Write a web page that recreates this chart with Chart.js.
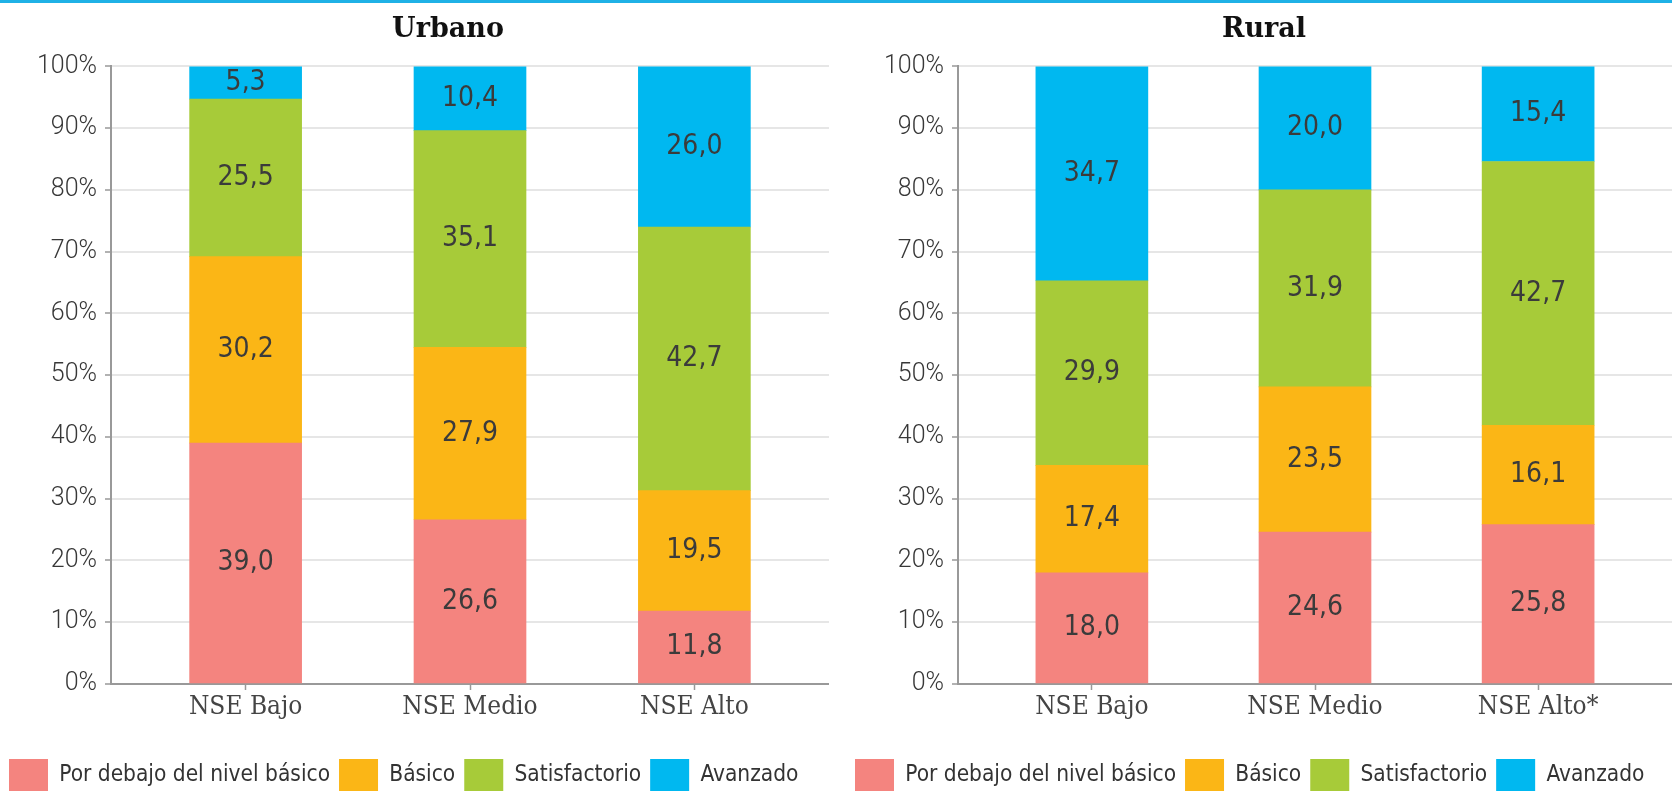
<!DOCTYPE html>
<html>
<head>
<meta charset="utf-8">
<script src="https://cdn.jsdelivr.net/npm/chart.js@4.4.1/dist/chart.umd.min.js"></script>
<style>
  html, body { margin: 0; padding: 0; background: #fff; overflow: hidden; }
  #linea { position: absolute; left: 0; top: 0; width: 1672px; height: 3px; background: #1fb1e6; z-index: 2; }
  #urbano { position: absolute; left: 0; top: 0; }
  #rural { position: absolute; left: 840px; top: 0; }
</style>
</head>
<body>
<div id="linea"></div>
<canvas id="urbano" width="829" height="801"></canvas>
<canvas id="rural" width="832" height="801"></canvas>
<script>
const niveles = ['Por debajo del nivel básico', 'Básico', 'Satisfactorio', 'Avanzado'];
const colores = ['#f4847f', '#fbb616', '#a7cb39', '#00b8f0'];

const catUrbano = ['NSE Bajo', 'NSE Medio', 'NSE Alto'];
const urbanoDebajo = [39.0, 26.6, 11.8];
const urbanoBasico = [30.2, 27.9, 19.5];
const urbanoSatisf = [25.5, 35.1, 42.7];
const urbanoAvanz = [5.3, 10.4, 26.0];

const catRural = ['NSE Bajo', 'NSE Medio', 'NSE Alto*'];
const ruralDebajo = [18.0, 24.6, 25.8];
const ruralBasico = [17.4, 23.5, 16.1];
const ruralSatisf = [29.9, 31.9, 42.7];
const ruralAvanz = [34.7, 20.0, 15.4];

const fuenteCond = '"Liberation Sans Narrow", "DejaVu Sans Condensed", sans-serif';

// etiquetas de valor dentro de cada segmento
const etiquetas = {
  id: 'etiquetas',
  afterDatasetsDraw(chart) {
    const ctx = chart.ctx;
    ctx.save();
    ctx.font = '28px ' + fuenteCond;
    ctx.fillStyle = '#3b3b3b';
    ctx.textAlign = 'center';
    ctx.textBaseline = 'middle';
    chart.data.datasets.forEach((ds, i) => {
      chart.getDatasetMeta(i).data.forEach((bar, j) => {
        const v = ds.data[j].y;
        ctx.fillText(v.toFixed(1).replace('.', ','), bar.x, (bar.y + bar.base) / 2);
      });
    });
    ctx.restore();
  }
};

// mueve el titulo para centrarlo donde esta en el original
const centrarTitulo = {
  id: 'centrarTitulo',
  afterLayout(chart, args, opts) {
    const t = chart.titleBlock;
    if (t && opts.x) {
      t.left = opts.x - 200;
      t.right = opts.x + 200;
    }
  }
};

function crearGrafico(id, titulo, cats, series, centroTitulo, padIzq, anchoEje) {
  return new Chart(document.getElementById(id), {
    type: 'bar',
    data: {
      datasets: series.map((vals, k) => ({
        label: niveles[k],
        data: vals.map((v, i) => ({ x: i, y: v })),
        backgroundColor: colores[k],
        borderWidth: 0,
        barThickness: 112
      }))
    },
    options: {
      responsive: false,
      animation: false,
      devicePixelRatio: 1,
      events: [],
      layout: { padding: { left: padIzq, right: 0, top: 0, bottom: 0 } },
      scales: {
        x: {
          type: 'linear',
          stacked: true,
          offset: false,
          min: -0.6,
          max: 2.6,
          afterBuildTicks: s => { s.ticks = cats.map((c, i) => ({ value: i })); },
          afterFit: s => { s.height = 66; },
          ticks: {
            callback: v => cats[v],
            autoSkip: false,
            maxRotation: 0,
            padding: 2,
            color: '#444',
            font: { family: '"DejaVu Serif Condensed", "DejaVu Serif", serif', size: 26 }
          },
          grid: { offset: false, drawOnChartArea: false, drawTicks: true, tickLength: 6, tickColor: '#999', tickWidth: 1.5 },
          border: { color: '#999', width: 2 }
        },
        y: {
          stacked: true,
          min: 0,
          max: 100,
          afterFit: s => { s.width = anchoEje; },
          ticks: {
            stepSize: 10,
            padding: 8,
            callback: v => v + '%',
            color: '#383838',
            font: { family: 'Roboto', size: 25, weight: '300' }
          },
          grid: { color: '#e6e6e6', lineWidth: 2, tickLength: 6, tickColor: '#999', tickWidth: 1.5 },
          border: { color: '#999', width: 2 }
        }
      },
      plugins: {
        tooltip: { enabled: false },
        title: {
          display: true,
          text: titulo,
          color: '#111',
          font: { family: '"DejaVu Serif", serif', weight: 'bold', size: 27, lineHeight: 1.2 },
          padding: { top: 14, bottom: 20 }
        },
        centrarTitulo: { x: centroTitulo },
        legend: {
          position: 'bottom',
          align: 'start',
          labels: {
            boxWidth: 39,
            boxHeight: 32,
            padding: 9,
            color: '#333',
            font: { family: fuenteCond, size: 22.5 }
          }
        }
      }
    },
    plugins: [etiquetas, centrarTitulo]
  });
}

crearGrafico('urbano', 'Urbano', catUrbano,
  [urbanoDebajo, urbanoBasico, urbanoSatisf, urbanoAvanz], 448, 0, 111);
crearGrafico('rural', 'Rural', catRural,
  [ruralDebajo, ruralBasico, ruralSatisf, ruralAvanz], 1264 - 840, 6, 112);
</script>
</body>
</html>
